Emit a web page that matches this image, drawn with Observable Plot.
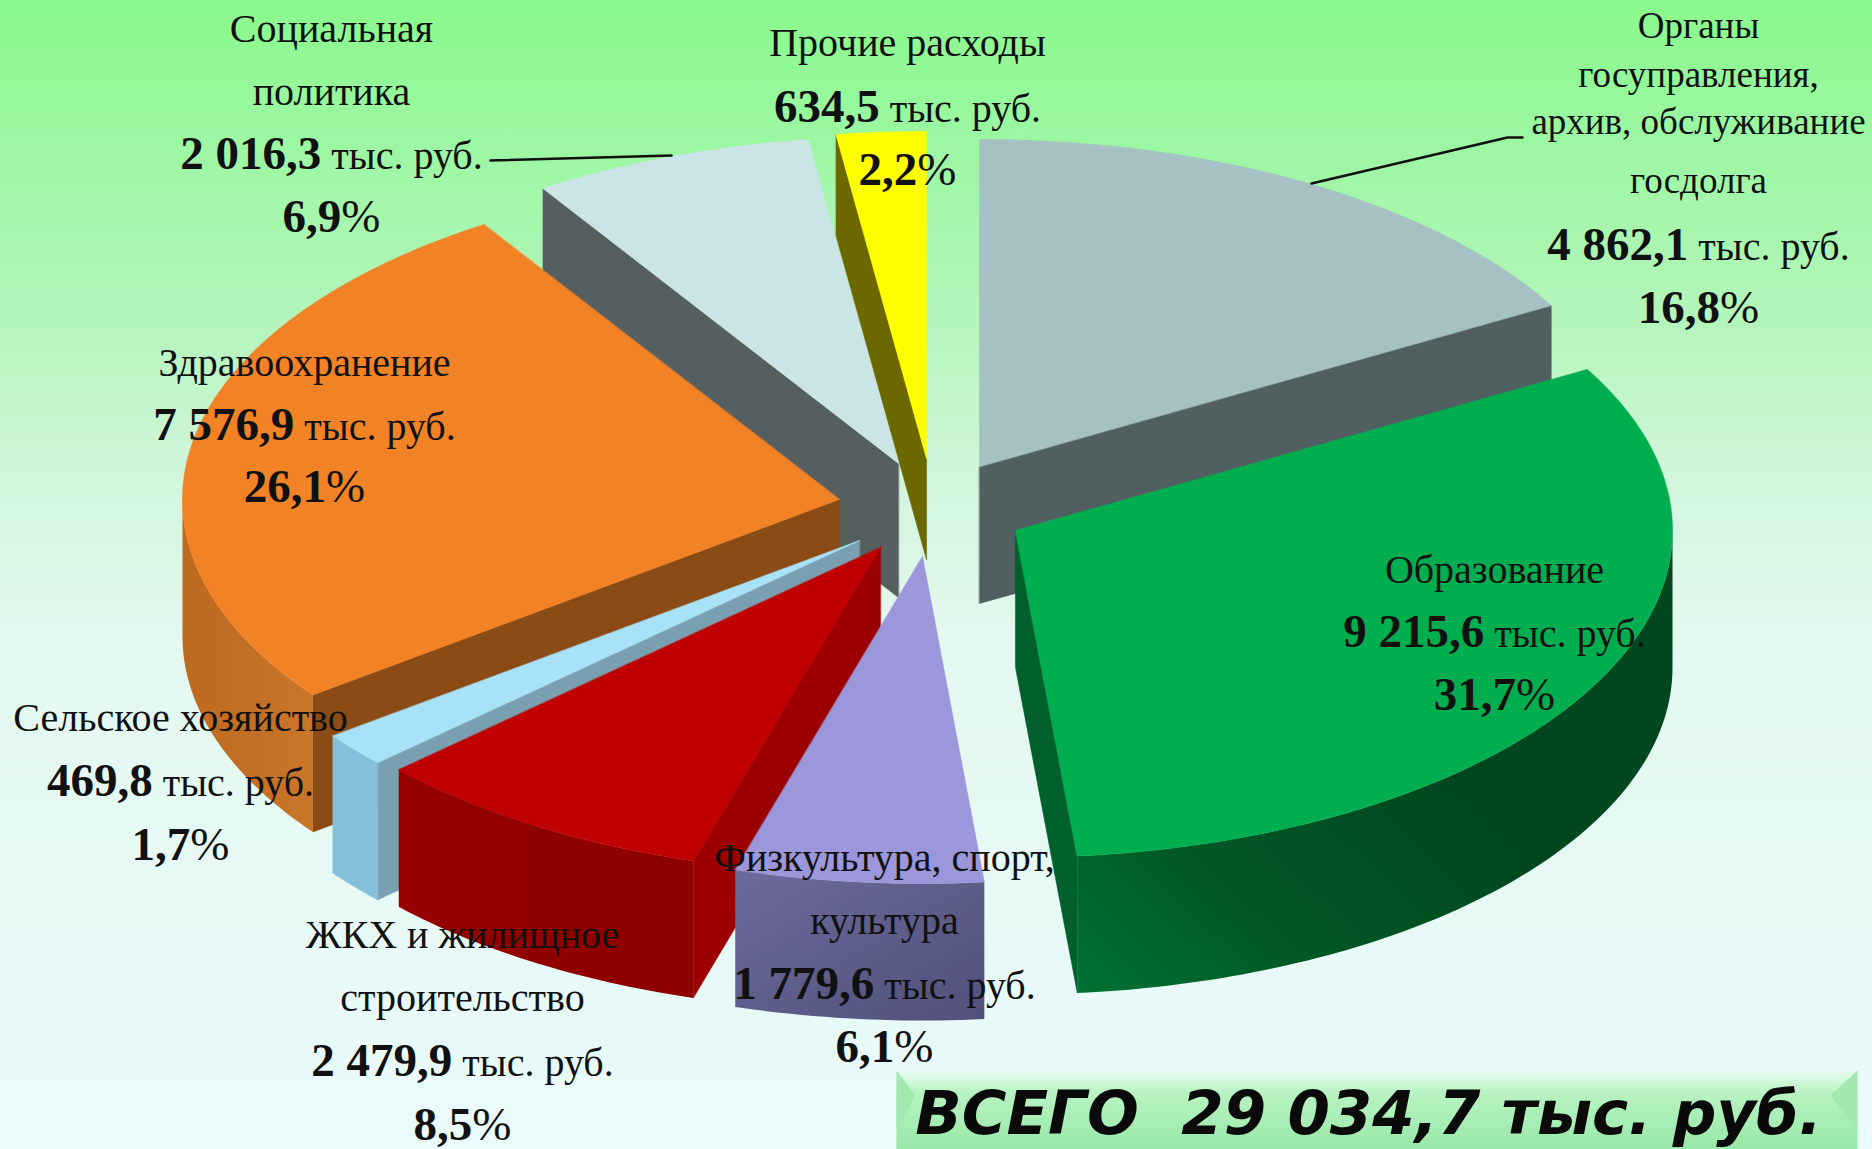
<!DOCTYPE html>
<html lang="ru">
<head>
<meta charset="utf-8">
<script src="https://cdn.jsdelivr.net/npm/d3@7"></script>
<script src="https://cdn.jsdelivr.net/npm/@observablehq/plot@0.6"></script>
<style>
html,body{margin:0;padding:0;background:#eafbfb;overflow:hidden}
svg{display:block}
</style>
</head>
<body>
<div id="chart"></div>
<script>
// ---- values, clockwise from the top ----
const categories = ["Органы госуправления", "Образование", "Физкультура, спорт, культура", "ЖКХ и жилищное строительство", "Сельское хозяйство", "Здравоохранение", "Социальная политика", "Прочие расходы"];
const amounts = ["4 862,1", "9 215,6", "1 779,6", "2 479,9", "469,8", "7 576,9", "2 016,3", "634,5"];
const shares = [16.8, 31.7, 6.1, 8.5, 1.7, 26.1, 6.9, 2.2];
const totalLabel = "ВСЕГО  29 034,7 тыс. руб.";

// ---- pie appearance ----
const apexX = [979, 1015, 922, 880, 859, 839, 898, 926];
const apexY = [466, 530, 556, 547, 540, 499, 463, 458];
const depths = [137, 137, 137, 137, 137, 137, 134, 101];
const topColors = ["#a5c1c3", "#00ae50", "#9b97da", "#c00000", "#a8e2f8", "#f18226", "#cbe4e6", "#ffff00"];
const radialColors = ["#525f61", "#00602c", "#000", "#9c0000", "#7a9fb0", "#8a4c14", "#555f60", "#6c6800"];
const outerColors = ["#000", "url(#gGreen)", "url(#gLav)", "url(#gRed)", "#85c0da", "url(#gOrange)", "#000", "#000"];
const drawOrder = [6, 7, 0, 5, 4, 3, 2, 1];
const radiusX = 657, radiusY = 327;

// ---- labels ----
const labelX = [1698, 1494, 884, 462, 180, 304, 331, 907];
const labelLines = [
  ["Органы", "госуправления,", "архив, обслуживание", "госдолга", "4 862,1 тыс. руб.", "16,8%"],
  ["Образование", "9 215,6 тыс. руб.", "31,7%"],
  ["Физкультура, спорт,", "культура", "1 779,6 тыс. руб.", "6,1%"],
  ["ЖКХ и жилищное", "строительство", "2 479,9 тыс. руб.", "8,5%"],
  ["Сельское хозяйство", "469,8 тыс. руб.", "1,7%"],
  ["Здравоохранение", "7 576,9 тыс. руб.", "26,1%"],
  ["Социальная", "политика", "2 016,3 тыс. руб.", "6,9%"],
  ["Прочие расходы", "634,5 тыс. руб.", "2,2%"]
];
const labelY = [
  [26, 75, 122, 181, 247, 310],
  [570, 634, 697],
  [858, 921, 986, 1049],
  [935, 998, 1063, 1127],
  [718, 783, 847],
  [363, 427, 489],
  [29, 92, 156, 219],
  [43, 109, 172]
];
const labelSizes = [[37, 37, 37, 37, 40, 40]];
const leaders = [
  [{x: 1311, y: 183}, {x: 1507, y: 137}, {x: 1522, y: 137}],
  [{x: 490, y: 160}, {x: 671, y: 155}]
];

// ---- geometry from the shares ----
const cum = d3.cumsum(shares);
const rad = d => d * Math.PI / 180;
const pt = (i, deg, drop = 0) => ({
  x: apexX[i] + radiusX * Math.sin(rad(deg)),
  y: apexY[i] - radiusY * Math.cos(rad(deg)) + drop
});
const arc = (i, a, b, drop = 0) => {
  const n = Math.max(2, Math.ceil(Math.abs(b - a)));
  return d3.range(n + 1).map(k => pt(i, a + (b - a) * k / n, drop));
};
const face = (pts, fill) => Plot.line(pts, {x: "x", y: "y", fill, stroke: String(fill).startsWith("url") ? "none" : fill, strokeWidth: 0.6, curve: "linear-closed"});

const pieMarks = drawOrder.flatMap(i => {
  const a = (i ? cum[i - 1] : 0) * 3.6, b = cum[i] * 3.6;
  const depth = depths[i];
  const apex = {x: apexX[i], y: apexY[i]};
  const apexLow = {x: apexX[i], y: apexY[i] + depth};
  const out = [];
  if (Math.sin(rad(a)) < -1e-6) out.push(face([apex, pt(i, a), pt(i, a, depth), apexLow], radialColors[i]));
  if (Math.sin(rad(b)) > 1e-6) out.push(face([apex, pt(i, b), pt(i, b, depth), apexLow], radialColors[i]));
  const lo = Math.max(a, 90), hi = Math.min(b, 270);
  if (hi > lo) out.push(face([...arc(i, lo, hi), ...arc(i, hi, lo, depth)], outerColors[i]));
  out.push(face([apex, ...arc(i, a, b)], topColors[i]));
  return out;
});

const gradientDefs = () => {
  const defs = d3.create("svg:defs");
  const grad = (id, [x1, y1, x2, y2], stops) => {
    const g = defs.append("linearGradient").attr("id", id).attr("x1", x1).attr("y1", y1).attr("x2", x2).attr("y2", y2);
    stops.forEach(([o, c]) => g.append("stop").attr("offset", o).attr("stop-color", c));
  };
  grad("gGreen", [0, 1, 0.6, 0.5], [[0, "#007234"], [0.45, "#005726"], [1, "#00471f"]]);
  grad("gLav", [0, 0, 1, 1], [[0, "#6c6b9c"], [1, "#50507a"]]);
  grad("gRed", [0, 0, 1, 0], [[0, "#960000"], [1, "#8c0000"]]);
  grad("gOrange", [0, 0, 1, 0], [[0, "#bc6a20"], [1, "#c9752a"]]);
  grad("gBox", [0, 0, 0, 1], [[0, "#e8fcf2"], [0.28, "#b8f3c2"], [1, "#98e8a8"]]);
  return defs.node();
};

const labelRows = labelLines.flatMap((lines, i) => lines.map((text, j) => ({
  text, x: labelX[i], y: labelY[i][j], size: labelSizes[i] ? labelSizes[i][j] : 40
})));

const chart = Plot.plot({
  width: 1872, height: 1149, margin: 0,
  x: {domain: [0, 1872], range: [0, 1872], axis: null},
  y: {domain: [0, 1149], range: [0, 1149], axis: null},
  style: {background: "linear-gradient(180deg,#8af98c 0%,#9bf7a2 12%,#b4f5bb 28%,#d2f6dc 42%,#e3f8ef 55%,#eafbfb 100%)"},
  marks: [
    gradientDefs,
    ...pieMarks,
    ...leaders.map(l => Plot.line(l, {x: "x", y: "y", stroke: "#111", strokeWidth: 2.5})),
    ...[37, 40].map(size => Plot.text(labelRows.filter(d => d.size === size), {x: "x", y: "y", text: "text", fontFamily: "Liberation Serif", fontSize: size, fill: "#111", className: "lab"})),
    Plot.line([{x: 896, y: 1070}, {x: 1857, y: 1070}, {x: 1857, y: 1149}, {x: 896, y: 1149}], {x: "x", y: "y", fill: "url(#gBox)", curve: "linear-closed"}),
    Plot.line([{x: 896, y: 1070}, {x: 915, y: 1095}, {x: 896, y: 1130}], {x: "x", y: "y", fill: "#a2e8af", curve: "linear-closed"}),
    Plot.line([{x: 1857, y: 1070}, {x: 1830, y: 1095}, {x: 1857, y: 1130}], {x: "x", y: "y", fill: "#a2e8af", curve: "linear-closed"}),
    Plot.text([totalLabel], {x: () => 1368, y: () => 1114, text: d => d, fontFamily: "DejaVu Sans", fontWeight: "bold", fontStyle: "italic", fontSize: 61, fill: "#0a0a0a", className: "tot"})
  ]
});

// numbers in bold inside the mixed-weight label lines
d3.select(chart).selectAll("g.lab text").each(function () {
  const m = this.textContent.match(/^([\d ,]+)( тыс\. руб\.|%)$/);
  if (!m) return;
  const t = d3.select(this).text("");
  t.append("tspan").attr("font-weight", "bold").attr("font-size", 47).text(m[1]);
  const rest = t.append("tspan").text(m[2]);
  if (m[2] === "%") rest.attr("font-size", 47);
});
document.getElementById("chart").appendChild(chart);
</script>
</body>
</html>
